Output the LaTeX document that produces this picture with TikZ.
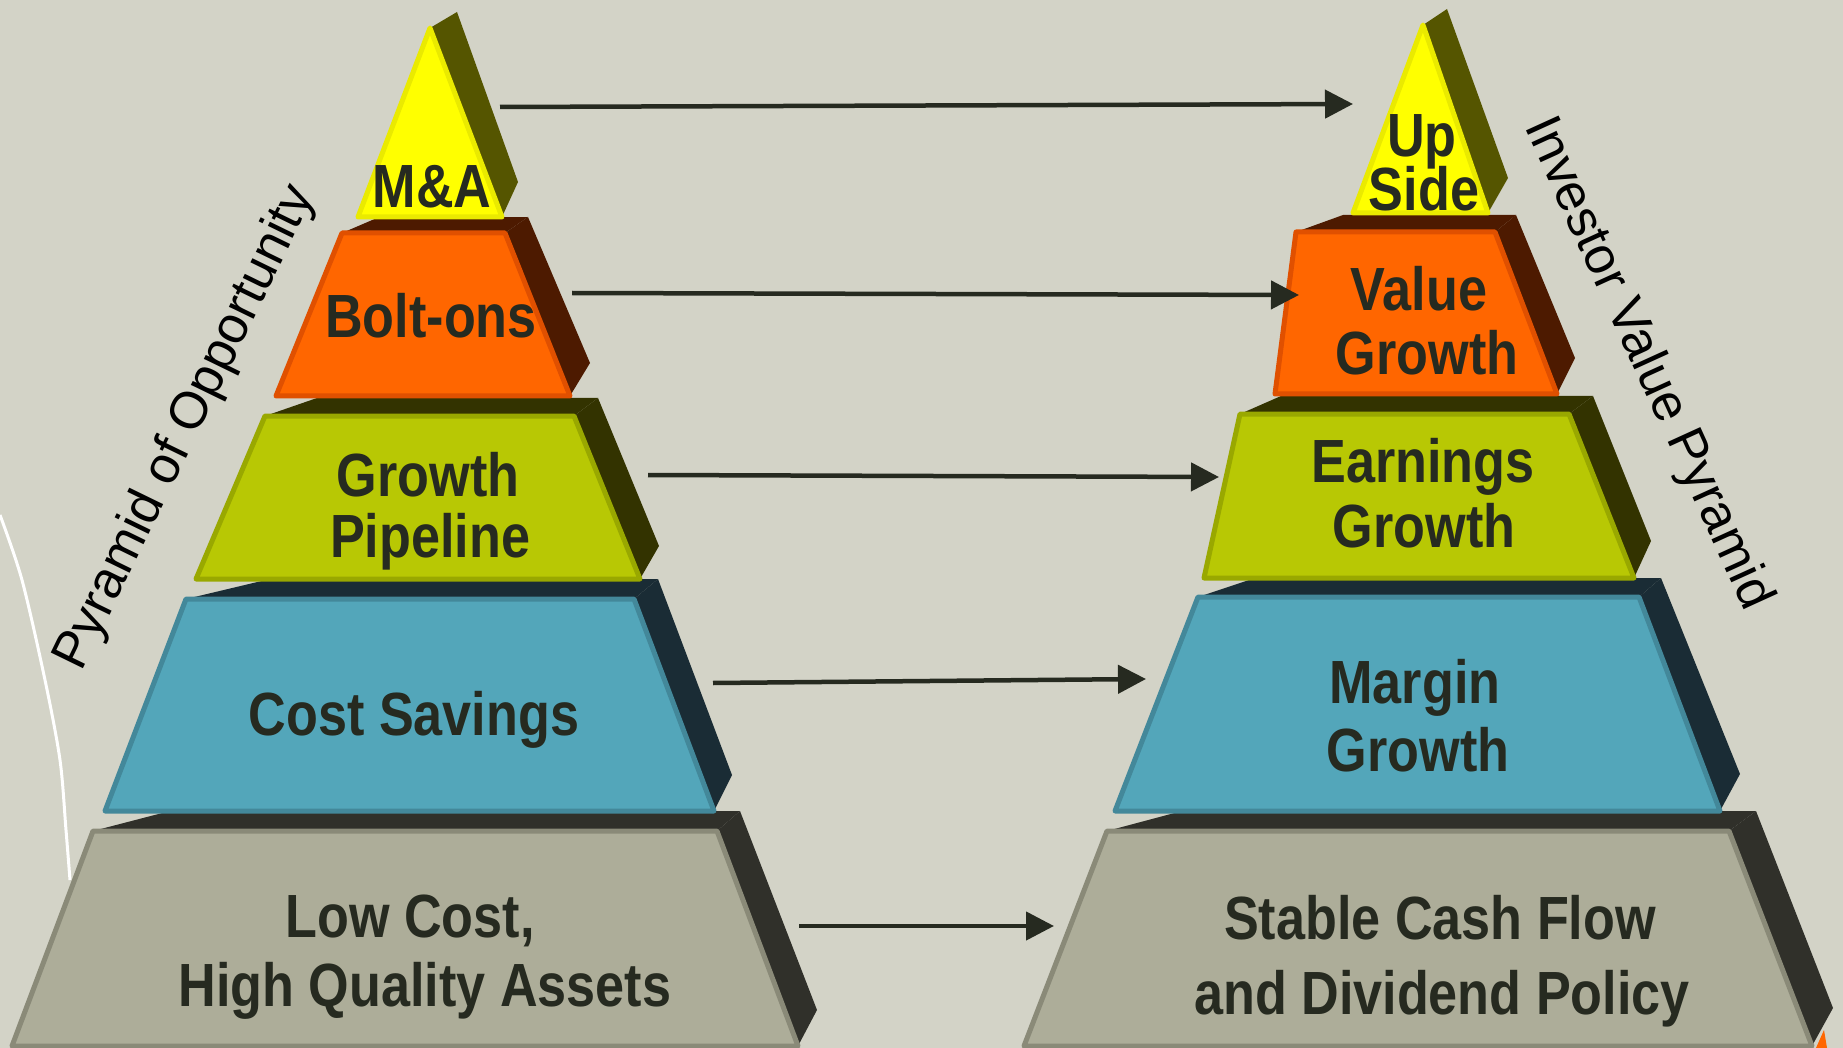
\documentclass[tikz,border=0pt]{standalone}
\usepackage{fontspec}
\setmainfont{Liberation Sans}
\newfontfamily\lblfont{Liberation Sans}[FakeStretch=0.855]
\usetikzlibrary{arrows.meta}
\definecolor{bg}{RGB}{211,211,199}
\definecolor{txt}{RGB}{38,42,32}
\definecolor{grayF}{RGB}{173,173,153}
\definecolor{grayB}{RGB}{138,138,120}
\definecolor{grayD}{RGB}{48,48,42}
\definecolor{blueF}{RGB}{83,166,186}
\definecolor{blueB}{RGB}{67,136,154}
\definecolor{blueD}{RGB}{26,44,53}
\definecolor{greenF}{RGB}{184,200,4}
\definecolor{greenB}{RGB}{153,168,0}
\definecolor{greenD}{RGB}{51,51,0}
\definecolor{orangeF}{RGB}{255,102,0}
\definecolor{orangeB}{RGB}{224,80,0}
\definecolor{orangeD}{RGB}{77,26,0}
\definecolor{yellowF}{RGB}{255,255,0}
\definecolor{yellowB}{RGB}{234,234,0}
\definecolor{yellowD}{RGB}{85,85,0}
\tikzset{
  grayfront/.style={fill=grayF, draw=grayB, line width=2.5pt, line join=round},
  graydark/.style={fill=grayD},
  bluefront/.style={fill=blueF, draw=blueB, line width=2.5pt, line join=round},
  bluedark/.style={fill=blueD},
  greenfront/.style={fill=greenF, draw=greenB, line width=2.5pt, line join=round},
  greendark/.style={fill=greenD},
  orangefront/.style={fill=orangeF, draw=orangeB, line width=2.5pt, line join=round},
  orangedark/.style={fill=orangeD},
  yellowfront/.style={fill=yellowF, draw=yellowB, line width=2.5pt, line join=round},
  yellowdark/.style={fill=yellowD},
  lbl/.style={font={\lblfont\bfseries\fontsize{30.5pt}{36pt}\selectfont}, text=txt, anchor=base, inner sep=0pt},
  sidelbl/.style={font={\fontsize{26pt}{31pt}\selectfont}, text=black, inner sep=0pt},
  arr/.style={draw=txt, line width=2.25pt, -{Triangle[length=14pt, width=14pt]}},
}
% #1 TL, #2 TR, #3 BR, #4 BL, #5 TL', #6 TR', #7 BR', #8 colour prefix
\newcommand\pyrlayer[8]{%
  \fill[#8dark] (#1) -- (#5) -- (#6) -- (#2) -- cycle;
  \fill[#8dark] (#2) -- (#6) -- (#7) -- (#3) -- cycle;
  \draw[#8front] (#1) -- (#2) -- (#3) -- (#4) -- cycle;
}
% #1 apex, #2 BR, #3 BL, #4 apex', #5 BR', #6 colour prefix
\newcommand\pyrapex[6]{%
  \fill[#6dark] (#1) -- (#4) -- (#5) -- (#2) -- cycle;
  \draw[#6front] (#1) -- (#2) -- (#3) -- cycle;
}
\begin{document}
\begin{tikzpicture}[x=0.5pt, y=-0.5pt]
\useasboundingbox (0,0) rectangle (1843,1048);
\fill[bg] (0,0) rectangle (1843,1048);

% white line at the left edge
\draw[white, line width=1.5pt] plot[smooth] coordinates {(0,515) (22,580) (45,680) (60,760) (66,830) (70,880)};

% ---------- left pyramid ----------
\pyrlayer{93,831}{717,831}{798,1046}{12,1046}{170,811}{740,811}{817,1010}{gray}
\pyrlayer{186,599}{634,599}{714,811}{105,811}{270,579}{658,579}{732,775}{blue}
\pyrlayer{265,416}{574,416}{640,579}{196,579}{317,398}{598,398}{659,546}{green}
\pyrlayer{342,233}{505,233}{570,396}{276,396}{377,218}{528,217}{590,363}{orange}
\pyrapex{430,28}{502,217}{358,217}{457,12}{518,182}{yellow}

% ---------- right pyramid ----------
\fill[orangeF] (1816,1048) -- (1824,1030) -- (1827,1048) -- cycle;
\pyrlayer{1107,831}{1729,831}{1812,1046}{1024,1046}{1182,811}{1756,811}{1833,1008}{gray}
\pyrlayer{1198,597}{1639,597}{1720,811}{1115,811}{1255,578}{1661,578}{1740,774}{blue}
\pyrlayer{1240,414}{1569,414}{1634,578}{1204,578}{1281,396}{1593,396}{1651,541}{green}
\pyrlayer{1296,232}{1495,232}{1557,394}{1275,394}{1343,215}{1516,215}{1575,358}{orange}
\pyrapex{1423,25}{1488,213}{1353,213}{1447,9}{1508,178}{yellow}

% ---------- labels left ----------
\node[lbl] (ma) at (432,208) {M\&A};
\node[lbl] (bolt) at (431,338) {Bolt-ons};
\node[lbl] (grow1) at (428,496) {Growth};
\node[lbl] (pipe) at (430,557) {Pipeline};
\node[lbl] (cost) at (414,735) {Cost Savings};
\node[lbl] (low1) at (410,937) {Low Cost,};
\node[lbl] (low2) at (425,1006) {High Quality Assets};

% ---------- labels right ----------
\node[lbl] (up1) at (1422,157) {Up};
\node[lbl] (up2) at (1424,211) {Side};
\node[lbl] (val1) at (1419,311) {Value};
\node[lbl] (val2) at (1427,374) {Growth};
\node[lbl] (ear1) at (1423,482) {Earnings};
\node[lbl] (ear2) at (1424,547) {Growth};
\node[lbl] (mar1) at (1415,703) {Margin};
\node[lbl] (mar2) at (1418,771) {Growth};
\node[lbl] (sta1) at (1440,939) {Stable Cash Flow};
\node[lbl] (sta2) at (1442,1014) {and Dividend Policy};

% ---------- rotated titles ----------
\node[sidelbl, rotate=64] (popp) at (186,428) {Pyramid of Opportunity};
\node[sidelbl, rotate=-65.5] (ivp) at (1647,364) {Investor Value Pyramid};

% ---------- arrows ----------
\coordinate (a1s) at (500,107);  \coordinate (a1e) at (1353,104);
\coordinate (a2s) at (572,293);  \coordinate (a2e) at (1299,295);
\coordinate (a3s) at (648,475);  \coordinate (a3e) at (1219,477);
\coordinate (a4s) at (713,683);  \coordinate (a4e) at (1146,679);
\coordinate (a5s) at (799,926);  \coordinate (a5e) at (1054,926);
\draw[arr] (a1s) -- (a1e);
\draw[arr] (a2s) -- (a2e);
\draw[arr] (a3s) -- (a3e);
\draw[arr] (a4s) -- (a4e);
\draw[arr] (a5s) -- (a5e);
\end{tikzpicture}
\end{document}
